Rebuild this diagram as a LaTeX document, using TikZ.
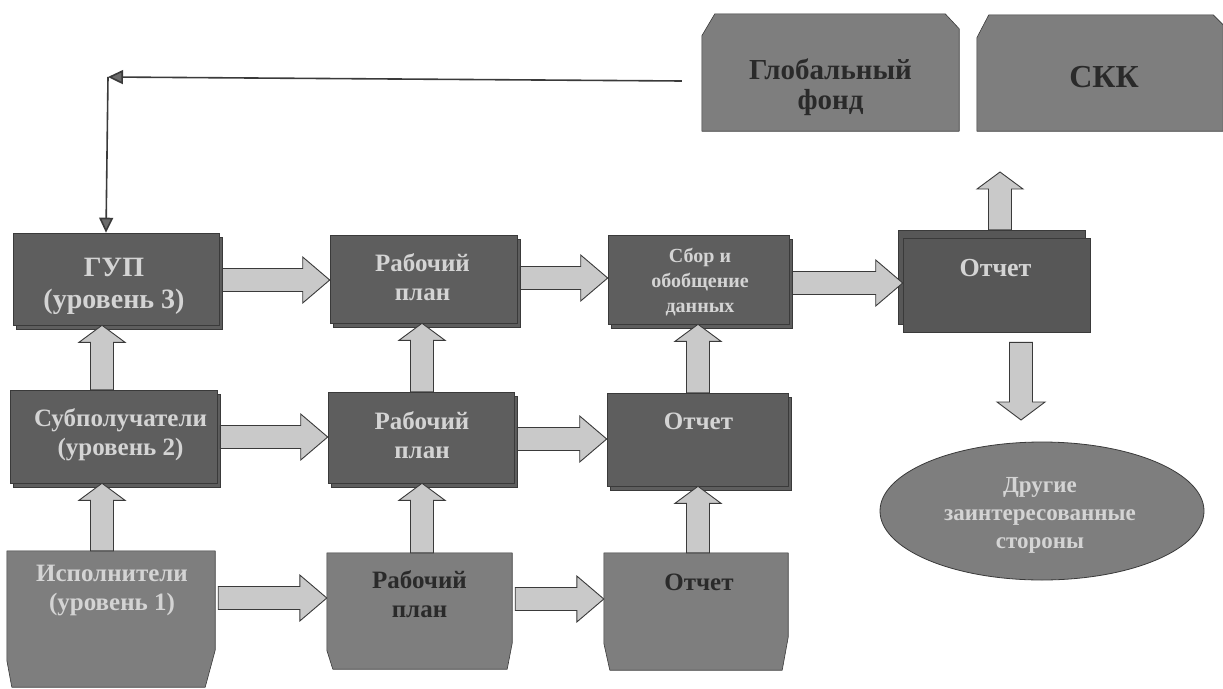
\documentclass[tikz,border=0pt]{standalone}
\usepackage{fontspec}
\setmainfont{Liberation Serif}
\usetikzlibrary{calc,shapes.geometric,arrows.meta,shadows}
\definecolor{boxD}{HTML}{5E5E5E}
\definecolor{boxM}{HTML}{7E7E7E}
\definecolor{edge}{HTML}{3A3A3A}
\definecolor{txtL}{HTML}{D4D4D4}
\definecolor{txtD}{HTML}{2A2A2A}
\definecolor{arrF}{HTML}{C9C9C9}
\definecolor{lineC}{HTML}{3A3A3A}
\definecolor{arrH}{HTML}{6A6A6A}
\newcommand\harr[3]{\draw[blk] let \p1=($(#1.east)+(3,#3)$), \p2=(#2.west) in
  (\x1,\y1+11.5pt) -- (\x2-27pt,\y1+11.5pt) -- (\x2-27pt,\y1+23pt) -- (\x2,\y1)
  -- (\x2-27pt,\y1-23pt) -- (\x2-27pt,\y1-11.5pt) -- (\x1,\y1-11.5pt) -- cycle;}
\newcommand\uparr[2]{\draw[blk] let \p1=#1, \p2=#2 in
  (\x1-11.5pt,\y1) -- (\x1-11.5pt,\y2-17pt) -- (\x1-23pt,\y2-17pt) -- (\x1,\y2)
  -- (\x1+23pt,\y2-17pt) -- (\x1+11.5pt,\y2-17pt) -- (\x1+11.5pt,\y1) -- cycle;}
\begin{document}
\begin{tikzpicture}[x=1pt,y=-1pt,
  box/.style={rectangle, draw=edge, line width=0.6pt, fill=boxD, inner sep=0pt},
  sbox/.style={box, copy shadow={shadow xshift=3pt, shadow yshift=-4pt}},
  ghost/.style={rectangle, draw=none, inner sep=0pt},
  shapeM/.style={draw=edge, line width=0.6pt, fill=boxM, line join=round},
  lbl/.style={align=center, inner sep=0pt, font=\bfseries\fontsize{25}{29}\selectfont},
  lt/.style={text=txtL}, dk/.style={text=txtD},
  blk/.style={draw=edge, line width=0.9pt, fill=arrF, line join=miter},
  conn/.style={draw=lineC, line width=1.6pt, -{Triangle[length=15pt,width=14pt,fill=arrH]}}]
\useasboundingbox (0,0) rectangle (1223,688);

% rectangular boxes
\node[sbox, minimum width=206pt, minimum height=92pt] (gup) at (116,279) {};
\node[sbox, minimum width=187pt, minimum height=88pt] (rp3) at (423.5,279) {};
\node[sbox, minimum width=181pt, minimum height=89pt] (sbor) at (698.5,279.5) {};
\node[sbox, minimum width=207pt, minimum height=93pt] (sub) at (113.5,436.5) {};
\node[sbox, minimum width=186pt, minimum height=91pt] (rp2) at (421,437.5) {};
\node[sbox, minimum width=181pt, minimum height=93pt] (otch2) at (697.5,439.5) {};
\node[box, fill=black!66, minimum width=187pt, minimum height=94pt,
      copy shadow={shadow xshift=-5pt, shadow yshift=8pt}] (otR) at (996.5,285) {};

% chamfered boxes
\node[ghost, minimum width=208pt, minimum height=136pt] (isp) at (111,619) {};
\node[ghost, minimum width=185pt, minimum height=116pt] (rp1) at (419.5,611) {};
\node[ghost, minimum width=184pt, minimum height=117pt] (otch1) at (696,611.5) {};
\node[ghost, minimum width=257pt, minimum height=117pt] (glob) at (830.5,72.5) {};
\node[ghost, minimum width=246pt, minimum height=116pt] (skk) at (1100,73) {};
\draw[shapeM] (isp.north west) -- (isp.north east) -- ($(isp.south east)+(0,-37)$)
  -- ($(isp.south east)+(-10,0)$) -- ($(isp.south west)+(5,0)$) -- ($(isp.south west)+(0,-27)$) -- cycle;
\draw[shapeM] (rp1.north west) -- (rp1.north east) -- ($(rp1.south east)+(0,-26)$)
  -- ($(rp1.south east)+(-5,0)$) -- ($(rp1.south west)+(6,0)$) -- ($(rp1.south west)+(0,-19)$) -- cycle;
\draw[shapeM] (otch1.north west) -- (otch1.north east) -- ($(otch1.south east)+(0,-33)$)
  -- ($(otch1.south east)+(-6,0)$) -- ($(otch1.south west)+(6,0)$) -- ($(otch1.south west)+(0,-27)$) -- cycle;
\draw[shapeM] (glob.south west) -- ($(glob.north west)+(0,22)$) -- ($(glob.north west)+(13,0)$)
  -- ($(glob.north east)+(-14,0)$) -- ($(glob.north east)+(0,15)$) -- (glob.south east) -- cycle;
\draw[shapeM] (skk.south west) -- ($(skk.north west)+(0,23)$) -- ($(skk.north west)+(12,0)$)
  -- ($(skk.north east)+(-10,0)$) -- ($(skk.north east)+(0,10)$) -- (skk.south east) -- cycle;

% ellipse
\node[ellipse, draw=edge, line width=0.8pt, fill=boxM, minimum width=324pt, minimum height=138pt, inner sep=0pt] (oth) at (1042,511) {};

% texts
\node[lbl, lt, font=\bfseries\fontsize{28}{32}\selectfont] (gupT) at ($(gup)+(-2,7)$) {ГУП\\(уровень 3)};
\node[lbl, lt] (rp3T) at ($(rp3)+(-1,-1.5)$) {Рабочий\\план};
\node[lbl, lt, font=\bfseries\fontsize{20}{25}\selectfont] (sborT) at ($(sbor)+(1.5,2.5)$) {Сбор и\\обобщение\\данных};
\node[lbl, lt, font=\bfseries\fontsize{26}{30}\selectfont] (otRT) at ($(otR)+(-1,-17)$) {Отчет};
\node[lbl, lt] (subT) at ($(sub)+(7,-1.5)$) {Субполучатели\\(уровень 2)};
\node[lbl, lt] (rp2T) at ($(rp2)+(1,-2.5)$) {Рабочий\\план};
\node[lbl, lt] (otch2T) at ($(otch2)+(1,-18)$) {Отчет};
\node[lbl, lt] (ispT) at ($(isp)+(1,-28)$) {Исполнители\\(уровень 1)};
\node[lbl, dk] (rp1T) at ($(rp1)+(0,-17)$) {Рабочий\\план};
\node[lbl, dk] (otch1T) at ($(otch1)+(3,-29.5)$) {Отчет};
\node[lbl, dk, font=\bfseries\fontsize{29}{30}\selectfont] (globT) at ($(glob)+(0,15)$) {Глобальный\\фонд};
\node[lbl, dk, font=\bfseries\fontsize{32}{36}\selectfont] (skkT) at ($(skk)+(4,4)$) {СКК};
\node[lbl, lt, font=\bfseries\fontsize{23}{28}\selectfont] (othT) at ($(oth)+(-2,4)$) {Другие\\заинтересованные\\стороны};

% horizontal block arrows
\harr{gup}{rp3}{1}
\harr{rp3}{sbor}{-1}
\harr{sbor}{otR}{3.5}
\harr{sub}{rp2}{0.5}
\harr{rp2}{otch2}{1.5}
\harr{isp}{rp1}{-21}
\harr{rp1}{otch1}{-12}

% vertical block arrows
\uparr{($(isp.north)+(-9,0)$)}{(sub.south)}
\uparr{($(sub.north)+(-11.5,0)$)}{(gup.south)}
\uparr{($(rp1.north)+(2.5,0)$)}{(rp2.south)}
\uparr{($(rp2.north)+(1,0)$)}{(rp3.south)}
\uparr{($(otch1.north)+(2,0)$)}{(otch2.south)}
\uparr{($(otch2.north)+(0.5,0)$)}{(sbor.south)}

% up arrow from the top right report
\coordinate (utip) at (1000,172);
\uparr{($(otR.north)+(3.5,-8)$)}{(utip)}

% down arrow to the other stakeholders
\coordinate (dtip) at (1021,420);
\draw[blk] let \p1=($(otR.south)+(24.5,10)$), \p2=(dtip) in
  (\x1-11.5pt,\y1) -- (\x1-11.5pt,\y2+18pt) -- (\x1-24pt,\y2+18pt) -- (\x1,\y2)
  -- (\x1+24pt,\y2+18pt) -- (\x1+11.5pt,\y2+18pt) -- (\x1+11.5pt,\y1) -- cycle;

% thin connector from the Global Fund
\coordinate (corner) at (108,77);
\draw[conn] ($(glob.west)+(-20,8.5)$) -- (corner);
\draw[conn] (corner) -- ($(gup.north)+(-10,0)$);
\end{tikzpicture}
\end{document}
